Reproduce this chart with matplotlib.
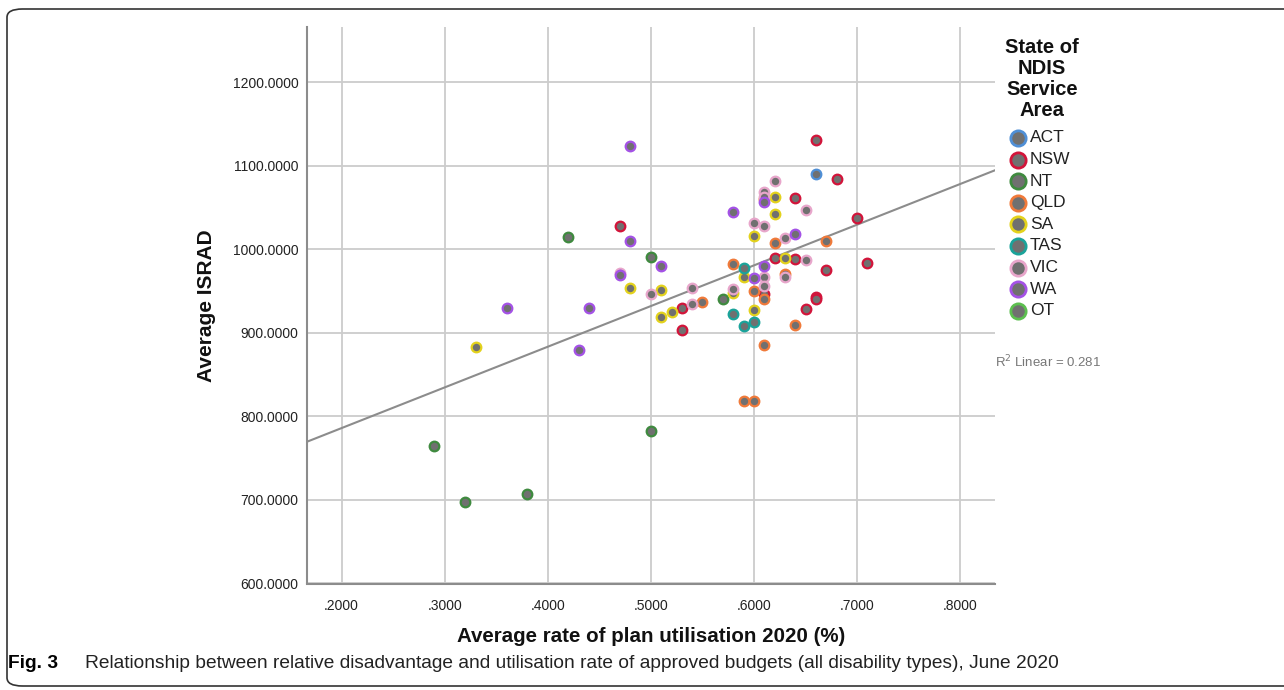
import numpy as np
import matplotlib
matplotlib.use("Agg")
import matplotlib.pyplot as plt
from matplotlib.lines import Line2D
from matplotlib.patches import FancyBboxPatch
from matplotlib import font_manager

# ---- data ----
states = ["ACT", "NSW", "NT", "QLD", "SA", "TAS", "VIC", "WA", "OT"]
edge_colors = ["#4f8fd6", "#d2143a", "#3f8a3f", "#f07a3a", "#e3d21c",
               "#1aa39a", "#e8a6cb", "#a452e6", "#5cbf4f"]

act_x = [0.66]
act_y = [1090]
nsw_x = [0.66, 0.68, 0.64, 0.70, 0.47, 0.62, 0.64, 0.71, 0.67, 0.61, 0.66, 0.66, 0.53, 0.65, 0.53]
nsw_y = [1131, 1084, 1061, 1037, 1028, 990, 988, 984, 975, 947, 943, 941, 930, 928, 903]
nt_x = [0.42, 0.50, 0.57, 0.50, 0.29, 0.32, 0.38]
nt_y = [1015, 991, 941, 783, 765, 697, 707]
qld_x = [0.61, 0.67, 0.62, 0.58, 0.63, 0.60, 0.61, 0.55, 0.64, 0.61, 0.59, 0.60]
qld_y = [1060, 1010, 1008, 982, 970, 950, 941, 937, 909, 885, 818, 818]
sa_x = [0.62, 0.62, 0.60, 0.63, 0.59, 0.48, 0.51, 0.58, 0.52, 0.51, 0.60, 0.33]
sa_y = [1062, 1042, 1016, 990, 967, 954, 951, 948, 925, 919, 927, 883]
tas_x = [0.59, 0.58, 0.60, 0.59]
tas_y = [978, 922, 913, 908]
vic_x = [0.62, 0.61, 0.61, 0.65, 0.60, 0.61, 0.63, 0.65, 0.47, 0.61, 0.63, 0.54, 0.61, 0.58, 0.50, 0.54]
vic_y = [1082, 1069, 1063, 1047, 1032, 1028, 1014, 987, 972, 967, 967, 954, 956, 953, 946, 935]
wa_x = [0.48, 0.61, 0.58, 0.64, 0.48, 0.51, 0.61, 0.47, 0.60, 0.36, 0.44, 0.43]
wa_y = [1123, 1057, 1045, 1018, 1010, 980, 980, 969, 966, 930, 930, 880]
ot_x = []
ot_y = []

xs = [act_x, nsw_x, nt_x, qld_x, sa_x, tas_x, vic_x, wa_x, ot_x]
ys = [act_y, nsw_y, nt_y, qld_y, sa_y, tas_y, vic_y, wa_y, ot_y]

x_ticks = [0.2, 0.3, 0.4, 0.5, 0.6, 0.7, 0.8]
y_ticks = [600, 700, 800, 900, 1000, 1100, 1200]
r2_label = "R$^2$ Linear = 0.281"
caption = ("Relationship between relative disadvantage and utilisation rate of "
           "approved budgets (all disability types), June 2020")

# ---- fonts ----
names = {f.name for f in font_manager.fontManager.ttflist}
base_font = "Liberation Sans" if "Liberation Sans" in names else "DejaVu Sans"
plt.rcParams["font.family"] = [base_font, "DejaVu Sans"]

W, H = 1284, 690
fig = plt.figure(figsize=(W / 100, H / 100), dpi=100)

def px(x, y):
    return x / W, 1 - y / H

# rounded frame around the figure
frame = FancyBboxPatch(px(7, 686), (1300 - 7) / W, (686 - 9) / H,
                       boxstyle="round,pad=0,rounding_size=0.012",
                       transform=fig.transFigure, fill=False,
                       edgecolor="#333333", linewidth=1.2)
fig.add_artist(frame)

ax = fig.add_axes([307 / W, 1 - 583.5 / H, (995 - 307) / W, (583.5 - 27) / H])
ax.set_xlim(0.1664, 0.8337)
ax.set_ylim(600, 1266)

gray_fill = "#707070"
for xv, yv, c in zip(xs, ys, edge_colors):
    if len(xv):
        ax.scatter(xv, yv, s=48, facecolor=gray_fill, edgecolor=c,
                   linewidth=1.6, zorder=3)

# linear fit over all points
all_x = np.concatenate([np.array(v, float) for v in xs])
all_y = np.concatenate([np.array(v, float) for v in ys])
slope, intercept = np.polyfit(all_x, all_y, 1)
lx = np.array(ax.get_xlim())
ax.plot(lx, slope * lx + intercept, color="#8c8c8c", linewidth=1.5, zorder=2)

ax.set_xticks(x_ticks)
ax.set_yticks(y_ticks)
ax.set_xticklabels([("%.4f" % v)[1:] for v in x_ticks])
ax.set_yticklabels(["%.4f" % v for v in y_ticks])
ax.tick_params(length=0, labelsize=10, labelcolor="#222222")
ax.tick_params(axis="x", pad=11)
ax.tick_params(axis="y", pad=6)
ax.grid(True, color="#cccccc", linewidth=1.3)
ax.set_axisbelow(True)
for s in ["top", "right"]:
    ax.spines[s].set_visible(False)
for s in ["left", "bottom"]:
    ax.spines[s].set_color("#8c8c8c")
    ax.spines[s].set_linewidth(1.5)

ax.set_xlabel("Average rate of plan utilisation 2020 (%)", fontsize=14.8,
              fontweight="bold", va="center", color="#111111")
ax.xaxis.set_label_coords(0.5, (583.5 - 636) / 556.5)
ax.set_ylabel("Average ISRAD", fontsize=15, fontweight="bold",
              va="center", color="#111111")
ax.yaxis.set_label_coords((206 - 307) / 688, 0.5)

fig.text(*px(995, 362), r2_label, fontsize=9.5, color="#777777",
         ha="left", va="center")

# legend drawn by hand
fig.text(*px(1042, 38), "State of\nNDIS\nService\nArea", fontsize=14.5,
         fontweight="bold", ha="center", va="top", linespacing=1.13,
         color="#111111")
for i, (name, c) in enumerate(zip(states, edge_colors)):
    yy = 138 + i * 21.6
    fig.add_artist(Line2D([1018 / W], [1 - yy / H], transform=fig.transFigure,
                          marker="o", markersize=11, markerfacecolor=gray_fill,
                          markeredgecolor=c, markeredgewidth=2, linestyle=""))
    fig.text(*px(1030, yy), name, fontsize=12.5, ha="left", va="center",
             color="#222222")

fig.text(*px(8, 664), "Fig. 3", fontsize=13.8, fontweight="bold",
         ha="left", va="center")
fig.text(*px(85, 664), caption, fontsize=13.8, ha="left", va="center",
         color="#222222")

fig.savefig("out.png", dpi=100)
